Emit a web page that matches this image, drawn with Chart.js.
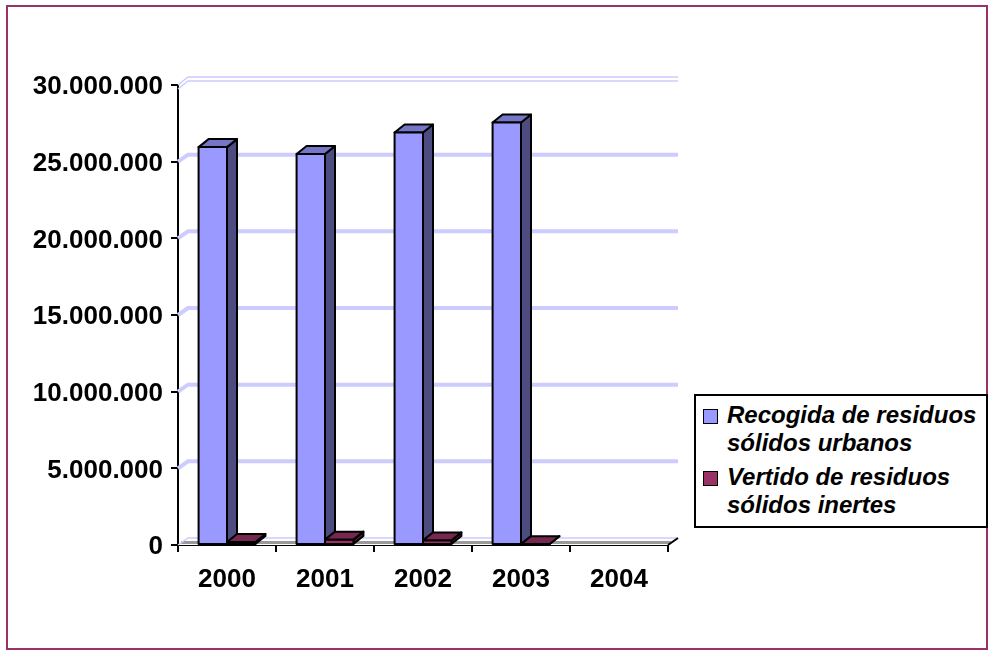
<!DOCTYPE html>
<html>
<head>
<meta charset="utf-8">
<script src="https://cdn.jsdelivr.net/npm/chart.js@4/dist/chart.umd.min.js"></script>
<style>
  html, body { margin: 0; padding: 0; background: #fff; }
  #wrap { position: relative; width: 995px; height: 657px; }
  #legend {
    position: absolute; left: 694px; top: 394px; width: 290px; height: 125px;
    border: 2px solid #000; background: #fff;
    font: italic bold 24px "Liberation Sans", Arial, sans-serif; color: #000;
    line-height: 28px; padding-top: 5px; box-sizing: content-box;
  }
  .item { display: flex; align-items: flex-start; margin-bottom: 6px; }
  .swatch { flex: none; width: 13px; height: 13px; border: 1px solid #000; margin: 8px 9px 0 7px; }
  .txt { width: 258px; }
</style>
</head>
<body>
<div id="wrap">
  <canvas id="chart" width="995" height="657"></canvas>
  <div id="legend"></div>
</div>
<script>
const years = ["2000", "2001", "2002", "2003", "2004"];
const recogida = [25950000, 25500000, 26900000, 27550000, null];
const vertido = [200000, 350000, 300000, 50000, null];
const seriesNames = ["Recogida de residuos sólidos urbanos", "Vertido de residuos sólidos inertes"];
const yMax = 30000000;
const yStep = 5000000;

// front / top / side colours for the fake 3D columns
const faces = [
  { front: "#9999ff", top: "#7676c8", side: "#4c4c80" },
  { front: "#993366", top: "#772850", side: "#4d1a33" }
];
const depth = { dx: 10, dy: 8 };
const wall = { dx: 10, dy: 7 };

const fmt = v => String(v).replace(/\B(?=(\d{3})+(?!\d))/g, ".");

document.getElementById("legend").innerHTML = seriesNames.map((name, i) => `
  <div class="item">
    <div class="swatch" style="background:${faces[i].front}"></div>
    <div class="txt">${name}</div>
  </div>`).join("");

function poly(ctx, pts, fill) {
  ctx.beginPath();
  ctx.moveTo(pts[0][0], pts[0][1]);
  for (let k = 1; k < pts.length; k++) ctx.lineTo(pts[k][0], pts[k][1]);
  ctx.closePath();
  ctx.fillStyle = fill;
  ctx.fill();
  ctx.stroke();
}

const fake3d = {
  id: "fake3d",
  beforeDraw(chart) {
    const ctx = chart.ctx;
    ctx.save();
    ctx.strokeStyle = "#993366";
    ctx.lineWidth = 2;
    ctx.strokeRect(7, 6, 980, 643);
    ctx.restore();
  },
  beforeDatasetsDraw(chart) {
    const { ctx, chartArea: { left, right, bottom }, scales: { y } } = chart;
    ctx.save();
    // floor
    ctx.beginPath();
    ctx.moveTo(left, bottom);
    ctx.lineTo(left + wall.dx, bottom - wall.dy);
    ctx.lineTo(right + wall.dx, bottom - wall.dy);
    ctx.lineTo(right, bottom);
    ctx.closePath();
    ctx.fillStyle = "#ffffff";
    ctx.fill();
    ctx.lineWidth = 3;
    ctx.strokeStyle = "#9a9a9a";
    ctx.beginPath();
    ctx.moveTo(left + 3, bottom - 2.5);
    ctx.lineTo(right + 3, bottom - 2.5);
    ctx.stroke();
    ctx.lineWidth = 1.5;
    ctx.strokeStyle = "#ccccff";
    ctx.beginPath();
    ctx.moveTo(left, bottom);
    ctx.lineTo(left + wall.dx, bottom - wall.dy);
    ctx.lineTo(right + wall.dx, bottom - wall.dy);
    ctx.stroke();
    ctx.strokeStyle = "#000";
    ctx.lineWidth = 2;
    ctx.beginPath();
    ctx.moveTo(right, bottom);
    ctx.lineTo(right + wall.dx, bottom - wall.dy);
    ctx.stroke();
    // back wall gridlines
    for (let v = yStep; v <= yMax; v += yStep) {
      const py = y.getPixelForValue(v);
      if (v === yMax) {
        ctx.lineWidth = 1.5;
        ctx.strokeStyle = "#ccccff";
        [-1, 3].forEach(o => {
          ctx.beginPath();
          ctx.moveTo(left, py + o + 1);
          ctx.lineTo(left + wall.dx, py - wall.dy + o);
          ctx.lineTo(right + wall.dx, py - wall.dy + o);
          ctx.stroke();
        });
      } else {
        ctx.lineWidth = 4;
        ctx.strokeStyle = "#ccccff";
        ctx.beginPath();
        ctx.moveTo(left, py);
        ctx.lineTo(left + wall.dx, py - wall.dy);
        ctx.lineTo(right + wall.dx, py - wall.dy);
        ctx.stroke();
      }
    }
    ctx.restore();
  },
  afterDatasetsDraw(chart) {
    const ctx = chart.ctx;
    ctx.save();
    ctx.strokeStyle = "#000";
    ctx.lineWidth = 2;
    ctx.lineJoin = "round";
    years.forEach((_, i) => {
      chart.data.datasets.forEach((ds, d) => {
        if (ds.data[i] == null) return;
        const el = chart.getDatasetMeta(d).data[i];
        const { x, y, base, width } = el.getProps(["x", "y", "base", "width"], true);
        const l = x - width / 2, r = x + width / 2;
        const { dx, dy } = depth;
        poly(ctx, [[r, y], [r + dx, y - dy], [r + dx, base - dy], [r, base]], faces[d].side);
        poly(ctx, [[l, y], [l + dx, y - dy], [r + dx, y - dy], [r, y]], faces[d].top);
        poly(ctx, [[l, y], [r, y], [r, base], [l, base]], faces[d].front);
      });
    });
    ctx.restore();
  }
};

Chart.defaults.font.family = '"Liberation Sans", Arial, sans-serif';
Chart.defaults.color = "#000";

new Chart(document.getElementById("chart").getContext("2d"), {
  type: "bar",
  data: {
    labels: years,
    datasets: [
      { label: seriesNames[0], data: recogida, backgroundColor: "rgba(0,0,0,0)", borderWidth: 0 },
      { label: seriesNames[1], data: vertido, backgroundColor: "rgba(0,0,0,0)", borderWidth: 0 }
    ]
  },
  options: {
    responsive: false,
    devicePixelRatio: 1,
    animation: false,
    categoryPercentage: 0.58,
    barPercentage: 1,
    layout: { padding: { left: 10, top: 85, right: 327, bottom: 10 } },
    plugins: { legend: { display: false }, tooltip: { enabled: false } },
    scales: {
      x: {
        offset: true,
        grid: { offset: true, drawOnChartArea: false, tickLength: 7, color: "#000", lineWidth: 2 },
        border: { display: true, color: "#000", width: 2 },
        ticks: { font: { size: 26, weight: "bold" }, padding: 12, color: "#000" },
        afterFit: s => { s.height = 102; }
      },
      y: {
        min: 0,
        max: yMax,
        grid: { drawOnChartArea: false, tickLength: 7, color: "#000", lineWidth: 2 },
        border: { display: true, color: "#000", width: 2 },
        ticks: { stepSize: yStep, font: { size: 26, weight: "bold" }, padding: 8, labelOffset: 2, color: "#000", callback: v => fmt(v) },
        afterFit: s => { s.width = 168; }
      }
    }
  },
  plugins: [fake3d]
});
</script>
</body>
</html>
